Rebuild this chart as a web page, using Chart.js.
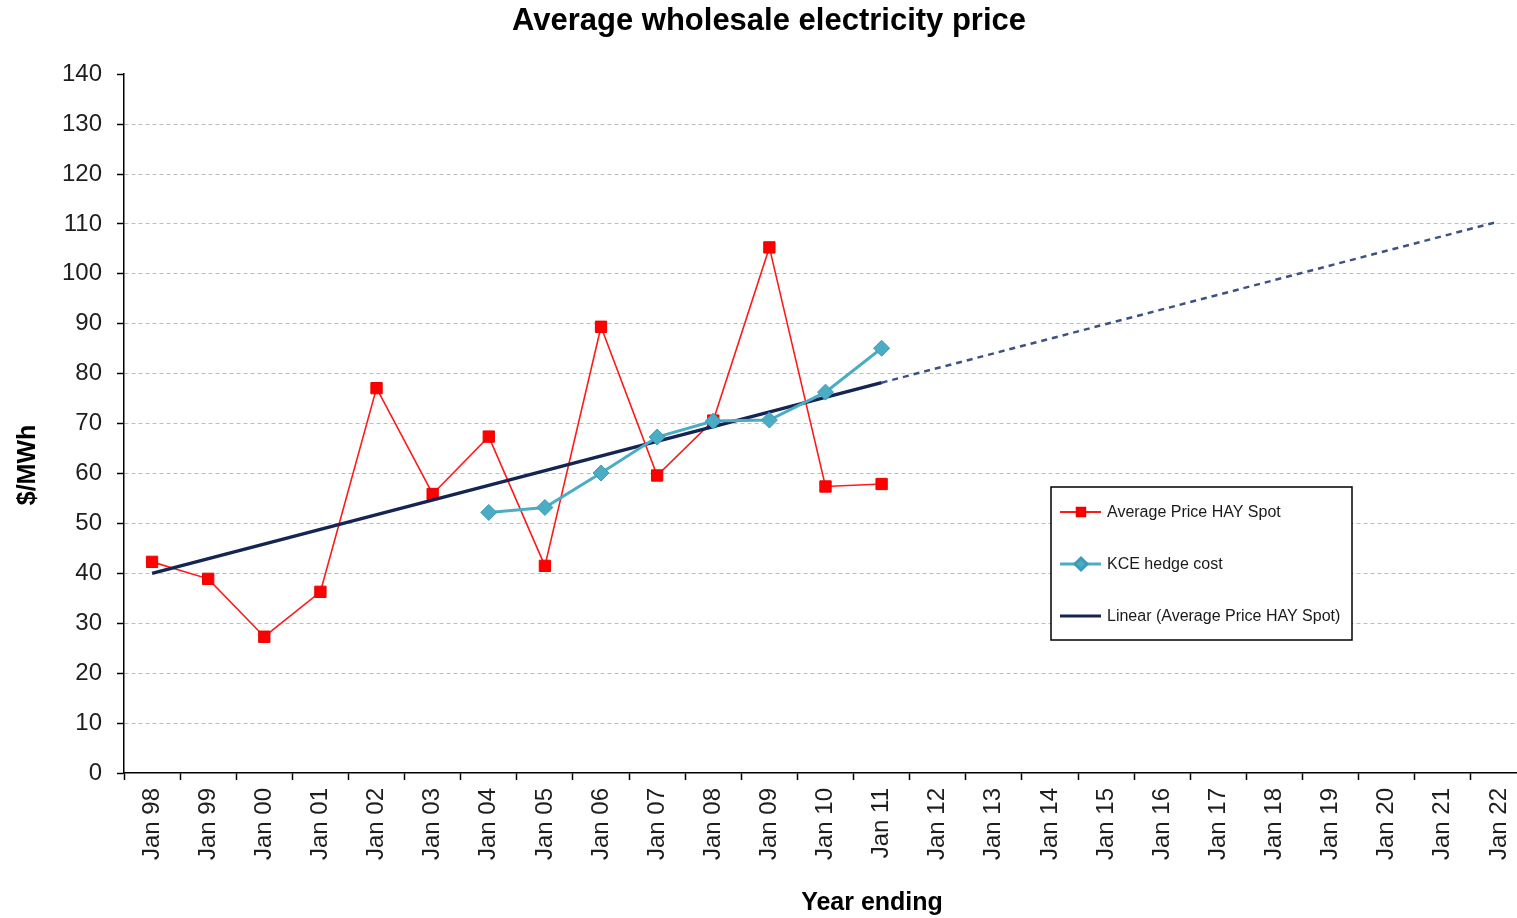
<!DOCTYPE html>
<html>
<head>
<meta charset="utf-8">
<title>Average wholesale electricity price</title>
<script src="https://cdn.jsdelivr.net/npm/chart.js@4/dist/chart.umd.min.js"></script>
<style>
  html, body { margin: 0; padding: 0; background: #ffffff; overflow: hidden; }
  #wrap { position: absolute; left: 0; top: 0; width: 1536px; height: 918px; }
  #chart { display: block; width: 1536px; height: 918px; max-width: none; }
</style>
</head>
<body>
<div id="wrap"><canvas id="chart" width="1536" height="918"></canvas></div>
<script>
// Year-ending categories along the x axis
const yearLabels = ['Jan 98', 'Jan 99', 'Jan 00', 'Jan 01', 'Jan 02', 'Jan 03', 'Jan 04', 'Jan 05',
  'Jan 06', 'Jan 07', 'Jan 08', 'Jan 09', 'Jan 10', 'Jan 11', 'Jan 12', 'Jan 13', 'Jan 14',
  'Jan 15', 'Jan 16', 'Jan 17', 'Jan 18', 'Jan 19', 'Jan 20', 'Jan 21', 'Jan 22'];

// Average spot price, $/MWh (Jan 98 .. Jan 11)
const spotPrice = [42.3, 38.9, 27.3, 36.3, 77.1, 55.9, 67.4, 41.5, 89.4, 59.6, 70.6, 105.3, 57.4, 57.9];

// KCE hedge cost, $/MWh (starts Jan 04)
const hedgeCost = [null, null, null, null, null, null, 52.2, 53.2, 60.1, 67.3, 70.5, 70.7, 76.3, 85.1];

// Linear trend of the spot price: fitted span (Jan 98 .. Jan 11) and forward projection (Jan 11 .. Jan 22)
const trendFit = [40.0, null, null, null, null, null, null, null, null, null, null, null, null, 78.2];
const trendProjection = [null, null, null, null, null, null, null, null, null, null, null, null, null, 78.2,
  null, null, null, null, null, null, null, null, null, null, 110.5];

// Value axis range
const yMin = 0;
const yMax = 140;
const yStep = 10;

const FONT = "'Liberation Sans', Arial, sans-serif";

// Axis titles and boxed legend drawn on the canvas
const annotations = {
  id: 'annotations',
  afterDraw(chart) {
    const ctx = chart.ctx;
    ctx.save();
    ctx.fillStyle = '#000';
    ctx.font = "bold 25px " + FONT;
    ctx.textAlign = 'center';
    ctx.textBaseline = 'middle';
    ctx.fillText('Year ending', 872, 903);
    ctx.save();
    ctx.translate(28, 465);
    ctx.rotate(-Math.PI / 2);
    ctx.fillText('$/MWh', 0, 0);
    ctx.restore();

    // legend box
    const bx = 1051, by = 487, bw = 301, bh = 153;
    ctx.fillStyle = '#fff';
    ctx.fillRect(bx, by, bw, bh);
    ctx.strokeStyle = '#000';
    ctx.lineWidth = 1.5;
    ctx.strokeRect(bx, by, bw, bh);

    const entries = [
      { ds: chart.data.datasets[0], lw: 2, r: 6 },
      { ds: chart.data.datasets[1], lw: 3, r: 6 },
      { ds: chart.data.datasets[2], lw: 3, r: 0 }
    ];
    entries.forEach((e, i) => {
      const y = 512 + i * 52;
      ctx.setLineDash([]);
      ctx.strokeStyle = e.ds.borderColor;
      ctx.lineWidth = e.lw;
      ctx.beginPath();
      ctx.moveTo(1060, y);
      ctx.lineTo(1101, y);
      ctx.stroke();
      if (e.r > 0) {
        ctx.fillStyle = e.ds.pointBackgroundColor;
        ctx.strokeStyle = e.ds.pointBorderColor;
        Chart.helpers.drawPoint(ctx, { pointStyle: e.ds.pointStyle, radius: e.r, borderWidth: 1, rotation: 0 }, 1081, y);
      }
      ctx.fillStyle = '#1a1a1a';
      ctx.font = "16px " + FONT;
      ctx.textAlign = 'left';
      ctx.textBaseline = 'middle';
      ctx.fillText(e.ds.label, 1107, y + 1);
    });
    ctx.restore();
  }
};

new Chart(document.getElementById('chart'), {
  type: 'line',
  data: {
    labels: yearLabels,
    datasets: [
      {
        label: 'Average Price HAY Spot',
        data: spotPrice,
        borderColor: '#FF1A1A',
        borderWidth: 1.6,
        pointStyle: 'rect',
        pointRadius: 8,
        pointBorderWidth: 1,
        pointBackgroundColor: '#FF0000',
        pointBorderColor: '#EE0000',
        tension: 0,
        order: 3
      },
      {
        label: 'KCE hedge cost',
        data: hedgeCost,
        borderColor: '#4BACC6',
        borderWidth: 3,
        pointStyle: 'rectRot',
        pointRadius: 8,
        pointBorderWidth: 1,
        pointBackgroundColor: '#4BACC6',
        pointBorderColor: '#3C9BB5',
        tension: 0,
        order: 1
      },
      {
        label: 'Linear (Average Price HAY Spot)',
        data: trendFit,
        borderColor: '#152553',
        borderWidth: 3.5,
        pointRadius: 0,
        spanGaps: true,
        order: 2
      },
      {
        label: 'Linear projection',
        data: trendProjection,
        borderColor: '#3B5283',
        borderWidth: 2.5,
        borderDash: [6, 5],
        pointRadius: 0,
        spanGaps: true,
        order: 2
      }
    ]
  },
  options: {
    responsive: false,
    animation: false,
    events: [],
    layout: { padding: { left: 4, right: 2, top: 0, bottom: 0 } },
    plugins: {
      legend: { display: false },
      tooltip: { enabled: false },
      title: {
        display: true,
        text: 'Average wholesale electricity price',
        color: '#000',
        font: { family: FONT, size: 31, weight: 'bold' },
        padding: { top: 3, bottom: 34 }
      }
    },
    scales: {
      x: {
        offset: true,
        afterFit(scale) {
          scale.height = 145;
          scale.paddingLeft = 0;
          scale.paddingRight = 0;
        },
        border: { display: true, color: '#000', width: 1.5 },
        grid: {
          offset: true,
          drawOnChartArea: false,
          drawTicks: true,
          tickLength: 7,
          tickColor: '#000',
          tickWidth: 1.5
        },
        ticks: {
          autoSkip: false,
          minRotation: 90,
          maxRotation: 90,
          padding: 8,
          color: '#1e1e1e',
          font: { family: FONT, size: 24 }
        }
      },
      y: {
        min: yMin,
        max: yMax,
        afterFit(scale) { scale.width = 120; },
        border: { display: true, color: '#000', width: 1.5, dash: [4, 3] },
        grid: {
          color: (c) => (c.tick && (c.tick.value === yMax || c.tick.value === yMin)) ? 'rgba(0,0,0,0)' : '#B9C0B9',
          lineWidth: 1,
          drawTicks: true,
          tickLength: 7,
          tickColor: '#000',
          tickWidth: 1.5,
          tickBorderDash: []
        },
        ticks: {
          stepSize: yStep,
          padding: 15,
          color: '#1e1e1e',
          font: { family: FONT, size: 24 }
        }
      }
    }
  },
  plugins: [annotations]
});
</script>
</body>
</html>
